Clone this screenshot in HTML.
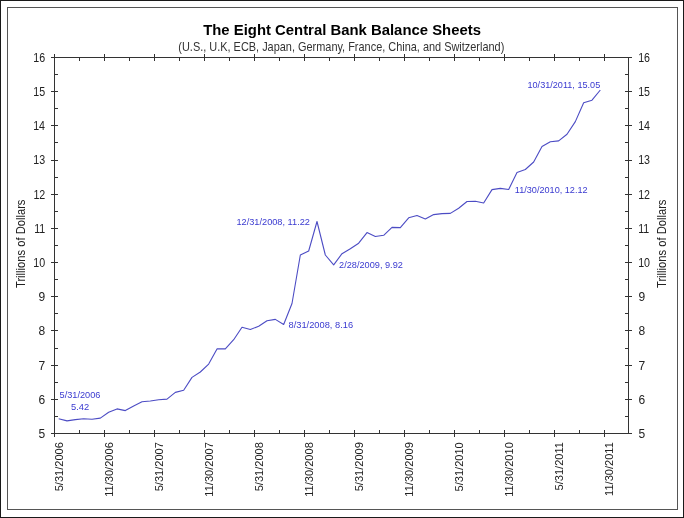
<!DOCTYPE html>
<html><head><meta charset="utf-8"><style>
html,body{margin:0;padding:0;background:#fff;}
body{width:684px;height:518px;overflow:hidden;}
svg{display:block;will-change:transform;font-family:"Liberation Sans",sans-serif;}
.ax text{fill:#222;}
.an text{fill:#3a3ad0;}
</style></head><body>
<svg width="684" height="518" viewBox="0 0 684 518">
<rect x="0.5" y="0.5" width="683" height="517" fill="#fff" stroke="#1a1a1a" stroke-width="1"/>
<rect x="7.5" y="7.5" width="670" height="502" fill="none" stroke="#555" stroke-width="1"/>
<text transform="translate(203.15,34.90) scale(1.0641,1)" font-size="14.0" font-weight="bold" fill="#000">The Eight Central Bank Balance Sheets</text>
<text transform="translate(178.34,51.10) scale(0.9119,1)" font-size="12.0" fill="#333">(U.S., U.K, ECB, Japan, Germany, France, China, and Switzerland)</text>
<rect x="54.5" y="57.5" width="574.0" height="376.0" fill="none" stroke="#333" stroke-width="1"/><path d="M51.0 433.5H58.0M625.0 433.5H632.0M55.0 416.5H58.0M625.0 416.5H628.0M51.0 399.5H58.0M625.0 399.5H632.0M55.0 382.5H58.0M625.0 382.5H628.0M51.0 365.5H58.0M625.0 365.5H632.0M55.0 348.5H58.0M625.0 348.5H628.0M51.0 330.5H58.0M625.0 330.5H632.0M55.0 313.5H58.0M625.0 313.5H628.0M51.0 296.5H58.0M625.0 296.5H632.0M55.0 279.5H58.0M625.0 279.5H628.0M51.0 262.5H58.0M625.0 262.5H632.0M55.0 245.5H58.0M625.0 245.5H628.0M51.0 228.5H58.0M625.0 228.5H632.0M55.0 211.5H58.0M625.0 211.5H628.0M51.0 194.5H58.0M625.0 194.5H632.0M55.0 177.5H58.0M625.0 177.5H628.0M51.0 160.5H58.0M625.0 160.5H632.0M55.0 142.5H58.0M625.0 142.5H628.0M51.0 125.5H58.0M625.0 125.5H632.0M55.0 108.5H58.0M625.0 108.5H628.0M51.0 91.5H58.0M625.0 91.5H632.0M55.0 74.5H58.0M625.0 74.5H628.0M51.0 57.5H58.0M625.0 57.5H632.0M54.5 430.0V437.0M54.5 54.0V61.0M104.5 430.0V437.0M104.5 54.0V61.0M154.5 430.0V437.0M154.5 54.0V61.0M204.5 430.0V437.0M204.5 54.0V61.0M254.5 430.0V437.0M254.5 54.0V61.0M304.5 430.0V437.0M304.5 54.0V61.0M354.5 430.0V437.0M354.5 54.0V61.0M404.5 430.0V437.0M404.5 54.0V61.0M454.5 430.0V437.0M454.5 54.0V61.0M504.5 430.0V437.0M504.5 54.0V61.0M554.5 430.0V437.0M554.5 54.0V61.0M604.5 430.0V437.0M604.5 54.0V61.0M79.5 430.0V433.0M79.5 58.0V61.0M129.5 430.0V433.0M129.5 58.0V61.0M179.5 430.0V433.0M179.5 58.0V61.0M229.5 430.0V433.0M229.5 58.0V61.0M279.5 430.0V433.0M279.5 58.0V61.0M329.5 430.0V433.0M329.5 58.0V61.0M379.5 430.0V433.0M379.5 58.0V61.0M429.5 430.0V433.0M429.5 58.0V61.0M479.5 430.0V433.0M479.5 58.0V61.0M529.5 430.0V433.0M529.5 58.0V61.0M579.5 430.0V433.0M579.5 58.0V61.0" stroke="#333" stroke-width="1" fill="none"/>
<polyline points="58.67,418.80 67.00,420.90 75.33,419.60 83.67,418.70 92.00,419.20 100.33,418.10 108.67,412.20 117.00,408.90 125.33,410.60 133.67,406.00 142.00,401.80 150.33,401.00 158.67,399.80 167.00,399.10 175.33,392.40 183.67,390.20 192.00,377.40 200.33,372.00 208.67,364.10 217.00,348.90 225.33,348.90 233.67,339.70 242.00,327.30 250.33,329.50 258.67,326.20 267.00,320.70 275.33,319.40 283.67,324.50 292.00,303.50 300.33,255.00 308.67,251.00 317.00,221.50 325.33,255.00 333.67,264.80 342.00,253.70 350.33,248.80 358.67,243.20 367.00,232.60 375.33,236.50 383.67,235.30 392.00,227.40 400.33,227.60 408.67,217.80 417.00,215.50 425.33,219.00 433.67,214.60 442.00,213.60 450.33,213.40 458.67,208.20 467.00,201.50 475.33,201.30 483.67,203.00 492.00,189.60 500.33,188.40 508.67,189.50 517.00,172.40 525.33,169.50 533.67,162.00 542.00,146.50 550.33,141.70 558.67,140.90 567.00,134.30 575.33,121.60 583.67,102.80 592.00,100.20 600.33,90.00" fill="none" stroke="#4c4cc4" stroke-width="1.1" stroke-linejoin="round"/>
<g class="ax">
<text transform="translate(38.58,437.90) scale(1.0000,1)" font-size="12.0">5</text><text transform="translate(638.52,437.90) scale(1.0000,1)" font-size="12.0">5</text><text transform="translate(38.58,403.72) scale(1.0000,1)" font-size="12.0">6</text><text transform="translate(638.40,403.72) scale(1.0000,1)" font-size="12.0">6</text><text transform="translate(38.58,369.54) scale(1.0000,1)" font-size="12.0">7</text><text transform="translate(638.40,369.54) scale(1.0000,1)" font-size="12.0">7</text><text transform="translate(38.58,335.35) scale(1.0000,1)" font-size="12.0">8</text><text transform="translate(638.52,335.35) scale(1.0000,1)" font-size="12.0">8</text><text transform="translate(38.58,301.17) scale(1.0000,1)" font-size="12.0">9</text><text transform="translate(638.40,301.17) scale(1.0000,1)" font-size="12.0">9</text><text transform="translate(33.27,266.99) scale(0.8900,1)" font-size="12.0">10</text><text transform="translate(638.15,266.99) scale(0.8900,1)" font-size="12.0">10</text><text transform="translate(34.13,232.81) scale(0.8900,1)" font-size="12.0">11</text><text transform="translate(638.15,232.81) scale(0.8900,1)" font-size="12.0">11</text><text transform="translate(33.38,198.63) scale(0.8900,1)" font-size="12.0">12</text><text transform="translate(638.15,198.63) scale(0.8900,1)" font-size="12.0">12</text><text transform="translate(33.27,164.45) scale(0.8900,1)" font-size="12.0">13</text><text transform="translate(638.15,164.45) scale(0.8900,1)" font-size="12.0">13</text><text transform="translate(33.17,130.26) scale(0.8900,1)" font-size="12.0">14</text><text transform="translate(638.15,130.26) scale(0.8900,1)" font-size="12.0">14</text><text transform="translate(33.27,96.08) scale(0.8900,1)" font-size="12.0">15</text><text transform="translate(638.15,96.08) scale(0.8900,1)" font-size="12.0">15</text><text transform="translate(33.27,61.90) scale(0.8900,1)" font-size="12.0">16</text><text transform="translate(638.15,61.90) scale(0.8900,1)" font-size="12.0">16</text><text transform="translate(62.90,491.34) rotate(-90) scale(0.9550,1)" font-size="11.6">5/31/2006</text><text transform="translate(112.90,496.77) rotate(-90) scale(0.9550,1)" font-size="11.6">11/30/2006</text><text transform="translate(162.90,491.34) rotate(-90) scale(0.9550,1)" font-size="11.6">5/31/2007</text><text transform="translate(212.90,496.66) rotate(-90) scale(0.9550,1)" font-size="11.6">11/30/2007</text><text transform="translate(262.90,491.34) rotate(-90) scale(0.9550,1)" font-size="11.6">5/31/2008</text><text transform="translate(312.90,496.77) rotate(-90) scale(0.9550,1)" font-size="11.6">11/30/2008</text><text transform="translate(362.90,491.34) rotate(-90) scale(0.9550,1)" font-size="11.6">5/31/2009</text><text transform="translate(412.90,496.66) rotate(-90) scale(0.9550,1)" font-size="11.6">11/30/2009</text><text transform="translate(462.90,491.45) rotate(-90) scale(0.9550,1)" font-size="11.6">5/31/2010</text><text transform="translate(512.90,496.77) rotate(-90) scale(0.9550,1)" font-size="11.6">11/30/2010</text><text transform="translate(562.90,490.46) rotate(-90) scale(0.9550,1)" font-size="11.6">5/31/2011</text><text transform="translate(612.90,495.89) rotate(-90) scale(0.9550,1)" font-size="11.6">11/30/2011</text><text transform="translate(24.90,288.02) rotate(-90) scale(0.9331,1)" font-size="12.0">Trillions of Dollars</text><text transform="translate(665.80,288.02) rotate(-90) scale(0.9331,1)" font-size="12.0">Trillions of Dollars</text>
</g>
<g class="an">
<text transform="translate(59.53,398.10) scale(0.9580,1)" font-size="9.6">5/31/2006</text><text transform="translate(71.03,410.10) scale(0.9745,1)" font-size="9.6">5.42</text><text transform="translate(288.53,327.80) scale(0.9689,1)" font-size="9.6">8/31/2008, 8.16</text><text transform="translate(236.46,225.20) scale(0.9595,1)" font-size="9.6">12/31/2008, 11.22</text><text transform="translate(339.04,268.40) scale(0.9565,1)" font-size="9.6">2/28/2009, 9.92</text><text transform="translate(514.77,193.30) scale(0.9502,1)" font-size="9.6">11/30/2010, 12.12</text><text transform="translate(527.47,87.60) scale(0.9477,1)" font-size="9.6">10/31/2011, 15.05</text>
</g>
</svg>
</body></html>
